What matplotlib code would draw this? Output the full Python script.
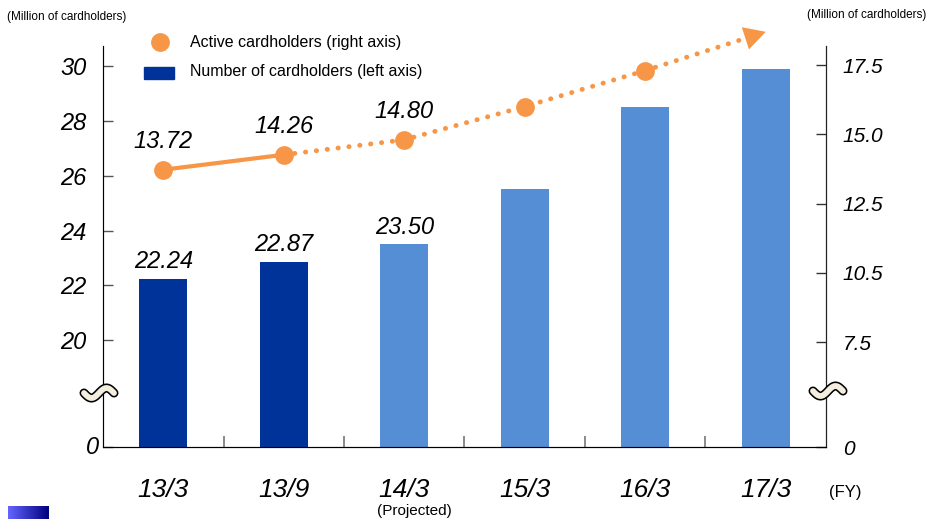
import numpy as np
import matplotlib
matplotlib.use("Agg")
import matplotlib.pyplot as plt
from matplotlib.patches import Rectangle

plt.rcParams['font.family'] = ['Liberation Sans', 'DejaVu Sans']

# data
periods = ["13/3", "13/9", "14/3", "15/3", "16/3", "17/3"]
cardholders = [22.24, 22.87, 23.50, 25.5, 28.5, 29.9]      # left axis
bar_labels = ["22.24", "22.87", "23.50", "", "", ""]
actual_bar = [True, True, False, False, False, False]
active = [13.72, 14.26, 14.80, 16.0, 17.3]                  # right axis
active_labels = ["13.72", "14.26", "14.80", "", ""]
active_target = 18.7                                         # arrow tip at 17/3
left_ticks = [0, 20, 22, 24, 26, 28, 30]
left_tick_labels = ["", "20", "22", "24", "26", "28", "30"]
right_ticks = [0, 7.5, 10.0, 12.5, 15.0, 17.5]
right_tick_labels = ["0", "7.5", "10.5", "12.5", "15.0", "17.5"]

DARK = "#003399"
LIGHT = "#558ED5"
ORANGE = "#F79646"

W, H = 928, 519
fig = plt.figure(figsize=(W / 100, H / 100), dpi=100)
ax = fig.add_axes([103 / W, 72 / H, 723 / W, 401 / H])
ax2 = ax.twinx()


# broken scales: 0 at the bottom, then a jump to 20 / 7.5
def left_pos(v):
    return 0 if v == 0 else v - 16.1


def right_pos(v):
    return 0 if v == 0 else v - 3.71


ax.set_xlim(-0.5, 5.5)
ax.set_ylim(0, 401 / 27.4)
ax2.set_ylim(0, 401 / 27.7)

x = np.arange(len(periods))
colors = [DARK if a else LIGHT for a in actual_bar]
ax.bar(x, [left_pos(v) for v in cardholders], width=0.4, color=colors, zorder=2)
for xi, v, lab in zip(x, cardholders, bar_labels):
    if lab:
        ax.text(xi, left_pos(v) + 0.2, lab, ha='center', va='bottom',
                fontsize=17, style='italic')

# active cardholders line: solid for actual, dotted for projection
ya = [right_pos(v) for v in active]
ax2.plot(x[:2], ya[:2], color=ORANGE, lw=3, zorder=3)
yt = right_pos(active_target)
dx = 0.12
ax2.plot(list(x[1:5]) + [5 - dx], ya[1:] + [yt - (yt - ya[-1]) * dx],
         color=ORANGE, lw=3.5, linestyle=(0, (0.05, 2.2)),
         dash_capstyle='round', clip_on=False, zorder=3)
# arrow head only (the shaft is invisible)
ax2.annotate('', xy=(5.0, yt), xytext=(4, ya[-1]),
             arrowprops=dict(arrowstyle='-|>,head_length=0.55,head_width=0.3',
                             mutation_scale=28, color=ORANGE,
                             lw=0, shrinkA=0, shrinkB=0),
             annotation_clip=False)
ax2.plot(x[:5], ya, 'o', color=ORANGE, markersize=12.5, zorder=4, clip_on=False)
for xi, y, lab in zip(x, ya, active_labels):
    if lab:
        ax2.text(xi, y + 0.6, lab, ha='center', va='bottom',
                 fontsize=17, style='italic')

# axes styling
ax.set_yticks([left_pos(v) for v in left_ticks])
ax.set_yticklabels(left_tick_labels, fontsize=17, style='italic')
ax2.set_yticks([right_pos(v) for v in right_ticks])
ax2.set_yticklabels(right_tick_labels, fontsize=15, style='italic')
ax.tick_params(axis='y', direction='in', length=7, width=1, pad=12, color='#555555')
ax2.tick_params(axis='y', direction='in', length=7, width=1, pad=12, color='#333333')
ax.set_xticks(np.arange(0.5, 5, 1))
ax.set_xticklabels([])
ax.tick_params(axis='x', direction='in', length=8, width=1.2, color='#777777')
for a in (ax, ax2):
    a.spines['top'].set_visible(False)
ax.spines['left'].set_color('#555555')
ax2.spines['right'].set_color('#222222')
ax.spines['bottom'].set_color('#222222')

# zero of the left axis sits right against the spine
ax.text(-4 / 723, 0, "0", transform=ax.transAxes, ha='right', va='center',
        fontsize=17, style='italic')

cond = ['Liberation Sans Narrow', 'Liberation Sans', 'DejaVu Sans']
for xi, p in zip(x, periods):
    ax.text(xi, -1.57, p, ha='center', va='center', fontsize=19, style='italic',
            family=cond)
fig.text(829 / W, 1 - 492 / H, "(FY)", ha='left', va='center', fontsize=12, family=cond)
fig.text(414 / W, 1 - 511 / H, "(Projected)", ha='center', va='center', fontsize=11, family=cond)

# units
fig.text(7 / W, 1 - 17 / H, "(Million of cardholders)", ha='left', va='center', fontsize=8.5)
fig.text(926 / W, 1 - 15 / H, "(Million of cardholders)", ha='right', va='center', fontsize=8.5)

# legend
fig.lines.append(plt.Line2D([160 / W], [1 - 42 / H], marker='o', color=ORANGE,
                            markersize=12.5, transform=fig.transFigure))
fig.patches.append(Rectangle((144 / W, 1 - 79 / H), 30 / W, 12 / H, color=DARK,
                             transform=fig.transFigure))
fig.text(190 / W, 1 - 42 / H, "Active cardholders (right axis)", ha='left', va='center', fontsize=11.5)
fig.text(190 / W, 1 - 72 / H, "Number of cardholders (left axis)", ha='left', va='center', fontsize=11.5)

# axis break marks
t = np.linspace(-np.pi, np.pi, 60)
for cx, cy in [(99, 393), (828, 391)]:
    xs = (cx + t / np.pi * 15) / W
    ys = 1 - (cy - 5 * np.sin(t)) / H
    fig.lines.append(plt.Line2D(xs, ys, color='black', lw=6.5, solid_capstyle='round',
                                transform=fig.transFigure))
    fig.lines.append(plt.Line2D(xs, ys, color='#F3EEDD', lw=4.2, solid_capstyle='round',
                                transform=fig.transFigure))

# gradient swatch bottom-left
grad = np.linspace(0, 1, 100)[None, :]
cmap = matplotlib.colors.LinearSegmentedColormap.from_list('g', ['#6464FF', '#000080'])
gax = fig.add_axes([8 / W, 0, 41 / W, 13 / H])
gax.imshow(grad, cmap=cmap, aspect='auto')
gax.axis('off')

fig.savefig("out.png", dpi=100)
